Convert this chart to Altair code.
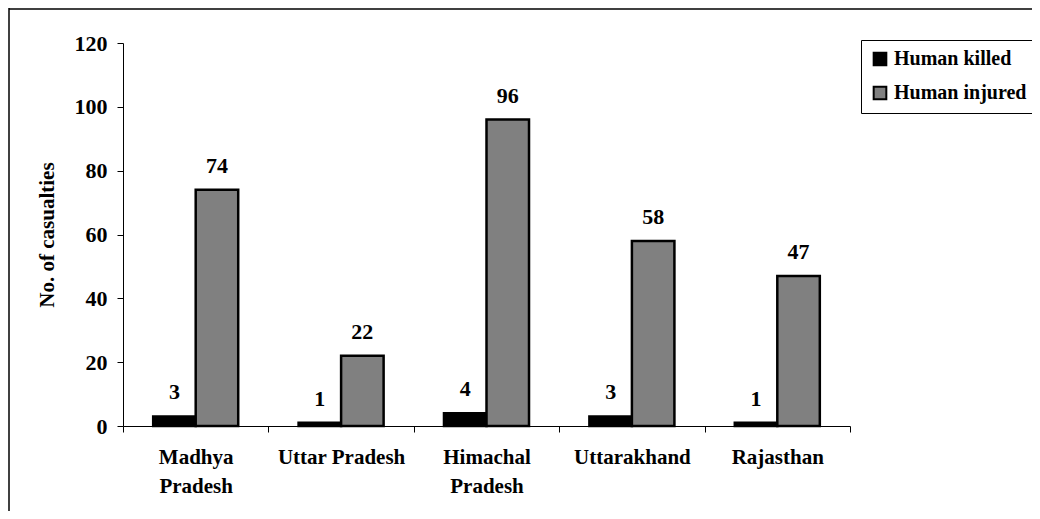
import altair as alt
import pandas as pd

states = ["Madhya Pradesh", "Uttar Pradesh", "Himachal Pradesh", "Uttarakhand", "Rajasthan"]
killed = [3, 1, 4, 3, 1]
injured = [74, 22, 96, 58, 47]
series = ["Human killed", "Human injured"]
series_colors = ["#000000", "#808080"]
y_ticks = [0, 20, 40, 60, 80, 100, 120]

rows = []
for s, k, i in zip(states, killed, injured):
    rows.append({"state": s, "series": series[0], "value": k})
    rows.append({"state": s, "series": series[1], "value": i})
df = pd.DataFrame(rows)

FONT = "Times New Roman, Liberation Serif, serif"

x_enc = alt.X(
    "state:N", sort=states,
    scale=alt.Scale(paddingInner=0, paddingOuter=0),
    axis=alt.Axis(
        title=None, labelAngle=0, tickBand="extent", tickSize=6,
        labelPadding=14, labelFontSize=21, labelLineHeight=29,
        labelExpr="indexof(datum.label, 'Pradesh') > 0 && datum.label != 'Uttar Pradesh' ? split(datum.label, ' ') : datum.label",
    ),
)
xo_enc = alt.XOffset("series:N", sort=series, scale=alt.Scale(paddingInner=0, paddingOuter=0.71))
y_enc = alt.Y(
    "value:Q",
    scale=alt.Scale(domain=[0, 120], nice=False),
    axis=alt.Axis(values=y_ticks, title="No. of casualties", grid=False, tickSize=6,
                  labelPadding=10, labelFontSize=22, titleFontSize=21, titlePadding=17),
)

bars = alt.Chart(df).mark_bar(stroke="black", strokeWidth=2.5).encode(
    x=x_enc, xOffset=xo_enc, y=y_enc,
    color=alt.Color(
        "series:N", sort=series,
        scale=alt.Scale(domain=series, range=series_colors),
        legend=alt.Legend(
            title=None, orient="none", legendX=738, legendY=-3,
            padding=9, strokeColor="black", fillColor="white",
            labelFont=FONT, labelFontWeight="bold", labelFontSize=20, labelColor="black",
            symbolType="square", symbolSize=160, symbolStrokeColor="black",
            symbolStrokeWidth=2, rowPadding=12, labelOffset=4, labelLimit=400,
        ),
    ),
)

labels = alt.Chart(df).mark_text(
    baseline="bottom", dy=-12, font=FONT, fontWeight="bold", fontSize=22, color="black"
).encode(x=alt.X("state:N", sort=states), xOffset=alt.XOffset("series:N", sort=series), y="value:Q", text="value:Q")

one = pd.DataFrame({"a": [0]})
frame_left = alt.Chart(one).mark_rule(color="black", strokeWidth=1.5).encode(
    x=alt.value(-114), y=alt.value(-35), y2=alt.value(480)
)
frame_top = alt.Chart(one).mark_rule(color="black", strokeWidth=1.5).encode(
    x=alt.value(-114), x2=alt.value(1000), y=alt.value(-34)
)

chart = alt.layer(frame_left, frame_top, bars, labels).properties(
    width=727, height=383,
    autosize=alt.AutoSizeParams(type="none"),
    padding={"left": 115, "top": 35, "right": 182, "bottom": 85},
).configure_view(stroke=None).configure_axis(
    domainColor="black", tickColor="black", labelColor="black", titleColor="black",
    labelFont=FONT, titleFont=FONT, labelFontWeight="bold", titleFontWeight="bold",
    domainWidth=1, tickWidth=1,
)

chart.save("out.html", embed_options={"renderer": "svg", "actions": False})
